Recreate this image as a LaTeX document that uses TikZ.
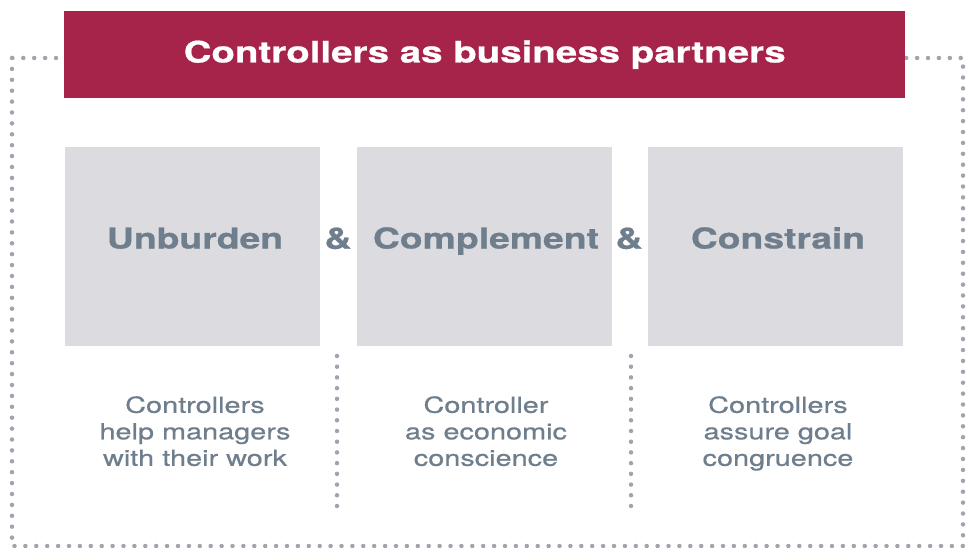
\documentclass[tikz,border=0pt]{standalone}
\usepackage{fontspec}
\setmainfont[FakeStretch=1.3]{TeX Gyre Heros}
\newfontfamily\descfont[FakeStretch=1.3,FakeBold=0.6]{TeX Gyre Heros}
\newfontfamily\headfont[FakeStretch=1.3,FakeBold=0.7]{TeX Gyre Heros}
\definecolor{titlered}{HTML}{A6234A}
\definecolor{boxgray}{HTML}{DCDBE0}
\definecolor{txtgray}{HTML}{6E7E8C}
\definecolor{dotgray}{HTML}{A0A4AE}
\tikzset{
  dotline/.style={draw=dotgray, line width=4.5pt, line cap=round, dash pattern=on 0pt off 10.9pt},
  sepline/.style={draw=dotgray, line width=4.5pt, line cap=round, dash pattern=on 0pt off 10.714pt},
  pillar/.style={fill=boxgray, draw=none, minimum width=255pt, minimum height=199pt, inner sep=0pt, anchor=north west},
  head/.style={text=txtgray, font=\headfont\bfseries\fontsize{28.7}{34}\selectfont, text height=21pt, text depth=6pt},
  amp/.style={text=txtgray, font=\headfont\bfseries\fontsize{29}{34}\selectfont, text height=21pt, text depth=6pt},
  desc/.style={text=txtgray, font=\descfont\fontsize{22.2}{26.5}\selectfont, align=center},
}
\begin{document}
\begin{tikzpicture}[x=1pt,y=-1pt]
\useasboundingbox (0,0) rectangle (966,548);
% dotted frame
\coordinate (f1) at (12,58);
\coordinate (f2) at (963,546);
\draw[dotline] (f1) rectangle (f2);
% title
\node[fill=titlered, minimum width=841pt, minimum height=87pt, inner sep=0pt, anchor=north west,
      text=white, font=\headfont\bfseries\fontsize{29.6}{34}\selectfont] (title) at (64,11) {Controllers as business partners};
% pillars
\node[pillar] (b1) at (65,147) {};
\node[pillar] (b2) at (357,147) {};
\node[pillar] (b3) at (648,147) {};
\node[head] (h1) at (195,241) {Unburden};
\node[head] (h2) at (486,241) {Complement};
\node[head] (h3) at (778,241) {Constrain};
\node[amp] (a1) at (338,241) {\&};
\node[amp] (a2) at (629,241) {\&};
% separators
\coordinate (s1t) at (337,356);
\coordinate (s1b) at (337,506);
\coordinate (s2t) at (631,356);
\coordinate (s2b) at (631,506);
\draw[sepline] (s1t) -- (s1b);
\draw[sepline] (s2t) -- (s2b);
% descriptions
\node[desc] (d1) at (195,434) {\strut Controllers\\\strut help managers\\\strut with their work};
\node[desc] (d2) at (486,434) {\strut Controller\\\strut as economic\\\strut conscience};
\node[desc] (d3) at (778,434) {\strut Controllers\\\strut assure goal\\\strut congruence};
\end{tikzpicture}
\end{document}
